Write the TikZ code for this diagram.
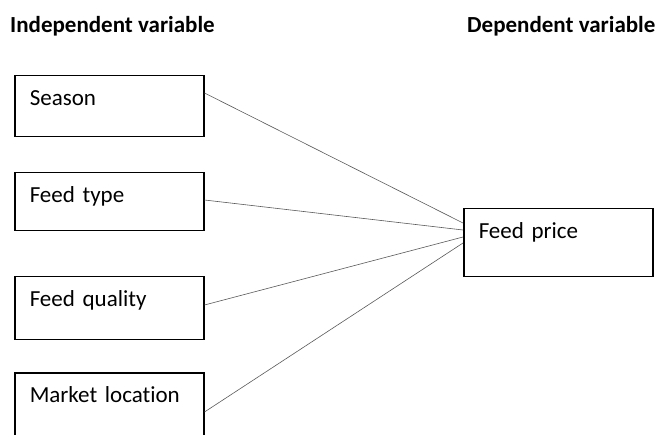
\documentclass[tikz,border=0pt]{standalone}
\usepackage{fontspec}
\setmainfont{Carlito}[Ligatures=NoCommon]
\tikzset{
  varbox/.style={draw, line width=1.5pt, anchor=north west, text width=159pt,
    align=left, inner xsep=15pt, inner ysep=0pt, text height=30pt,
    font=\fontsize{23}{27}\selectfont},
  heading/.style={anchor=base west, inner sep=0pt,
    font=\fontsize{23}{27}\selectfont\bfseries},
  link/.style={draw=black!65, line width=0.6pt}
}

\begin{document}
\begin{tikzpicture}[x=1pt, y=-1pt]
  \useasboundingbox (0,0) rectangle (661,435);
  \clip (0,0) rectangle (661,435);
  % Column headings
  \node[heading] (indep) at (10,33) {Independent variable};
  \node[heading] (dep) at (467,33) {Dependent variable};
  % Independent variable boxes
  \node[varbox, text depth=31pt] (season) at (14,75) {Season};
  \node[varbox, text depth=28pt] (feedtype) at (14,172) {Feed type};
  \node[varbox, text depth=33pt] (feedquality) at (14,276) {Feed quality};
  \node[varbox, text depth=42pt] (market) at (14,372) {Market location};
  % Dependent variable box
  \node[varbox, text depth=38pt] (price) at (463,208) {Feed price};
  % Links to the dependent variable
  \draw[link] ([yshift=-18pt]season.north east) -- ([yshift=-15pt]price.north west);
  \draw[link] ([yshift=-28pt]feedtype.north east) -- ([yshift=-22pt]price.north west);
  \draw[link] ([yshift=-29pt]feedquality.north east) -- ([yshift=-29pt]price.north west);
  \draw[link] ([yshift=-40pt]market.north east) -- ([yshift=-35pt]price.north west);
\end{tikzpicture}
\end{document}
